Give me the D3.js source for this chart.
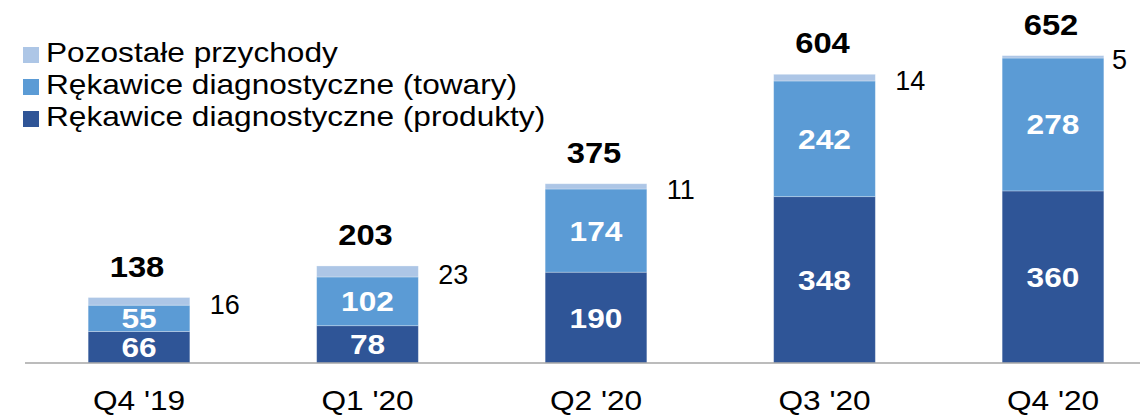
<!DOCTYPE html>
<html>
<head>
<meta charset="utf-8">
<style>
  body { margin: 0; background: #fff; }
  svg { display: block; font-family: "Liberation Sans", Arial, sans-serif; }
</style>
</head>
<body>
<svg id="chart" width="1140" height="415"></svg>
<script src="https://cdnjs.cloudflare.com/ajax/libs/d3/7.8.5/d3.min.js"></script>
<script>
// data
var categories = ["Q4 '19", "Q1 '20", "Q2 '20", "Q3 '20", "Q4 '20"];
var produkty   = [66, 78, 190, 348, 360];
var towary     = [55, 102, 174, 242, 278];
var pozostale  = [16, 23, 11, 14, 5];
var totals     = [138, 203, 375, 604, 652];

var seriesKeys  = ["produkty", "towary", "pozostale"];
var seriesNames = ["Rękawice diagnostyczne (produkty)", "Rękawice diagnostyczne (towary)", "Pozostałe przychody"];
var colors = { produkty: "#2F5597", towary: "#5B9BD5", pozostale: "#ADC6E6" };

var rows = categories.map(function(c, i) {
    return { cat: c, produkty: produkty[i], towary: towary[i], pozostale: pozostale[i], total: totals[i] };
});

var svg = d3.select("#chart"),
    width = +svg.attr("width"),
    height = +svg.attr("height"),
    sx = 1.13; // text in the picture is stretched a bit horizontally

var x = d3.scaleBand()
    .domain(categories)
    .range([24.75, 1167.25])
    .paddingInner(0.555)
    .paddingOuter(0.2775);

var y = d3.scaleLinear()
    .domain([0, 700])
    .range([363, 363 - 700 * 0.478]);

var stacked = d3.stack().keys(seriesKeys)(rows);

// bars
var layers = svg.append("g").selectAll("g")
    .data(stacked)
    .join("g")
    .attr("fill", function(d) { return colors[d.key]; });

layers.selectAll("rect")
    .data(function(d) { return d; })
    .join("rect")
    .attr("x", function(d) { return x(d.data.cat); })
    .attr("width", x.bandwidth())
    .attr("y", function(d) { return y(d[1]); })
    .attr("height", function(d) { return y(d[0]) - y(d[1]); })
    .attr("stroke", "#fff")
    .attr("stroke-opacity", 0.35)
    .attr("stroke-width", 0.8);

// axis line
svg.append("line")
    .attr("x1", 25).attr("x2", width)
    .attr("y1", y(0)).attr("y2", y(0))
    .attr("stroke", "#A6A6A6")
    .attr("stroke-width", 1.5);

// category labels
svg.append("g").selectAll("text")
    .data(categories)
    .join("text")
    .attr("transform", function(d) {
        return "translate(" + (x(d) + x.bandwidth() / 2) + ",410) scale(" + sx + ",1)";
    })
    .attr("text-anchor", "middle")
    .attr("font-size", 28)
    .attr("fill", "#000")
    .text(function(d) { return d; });

// white labels inside the two big segments
["produkty", "towary"].forEach(function(key) {
    var layer = stacked.find(function(s) { return s.key === key; });
    svg.append("g").selectAll("text")
        .data(layer)
        .join("text")
        .attr("transform", function(d) {
            var cy = (y(d[0]) + y(d[1])) / 2 + 10;
            return "translate(" + (x(d.data.cat) + x.bandwidth() / 2) + "," + cy + ") scale(" + sx + ",1)";
        })
        .attr("text-anchor", "middle")
        .attr("font-size", 28)
        .attr("font-weight", "bold")
        .attr("fill", "#fff")
        .text(function(d) { return d.data[key]; });
});

// totals above bars
var topLayer = stacked[stacked.length - 1];
svg.append("g").selectAll("text")
    .data(topLayer)
    .join("text")
    .attr("transform", function(d) {
        return "translate(" + (x(d.data.cat) + x.bandwidth() / 2 - 2) + "," + (y(d[1]) - 21) + ") scale(" + sx + ",1)";
    })
    .attr("text-anchor", "middle")
    .attr("font-size", 29)
    .attr("font-weight", "bold")
    .attr("fill", "#000")
    .text(function(d) { return d.data.total; });

// small "pozostale" values to the right of the bars
var outLabels = svg.append("g").selectAll("text")
    .data(topLayer)
    .join("text")
    .attr("font-size", 27)
    .attr("fill", "#000")
    .text(function(d) { return d.data.pozostale; });

outLabels.attr("x", function(d) {
        var w = this.getComputedTextLength();
        return Math.min(x(d.data.cat) + x.bandwidth() + 20, 1127 - w);
    })
    .attr("y", function(d) { return (y(d[0]) + y(d[1])) / 2 + 12.5; });

// legend
var legendOrder = seriesKeys.slice().reverse();
var legend = svg.append("g").selectAll("g")
    .data(legendOrder)
    .join("g")
    .attr("transform", function(d, i) { return "translate(23," + (47 + i * 32) + ")"; });

legend.append("rect")
    .attr("width", 16).attr("height", 16)
    .attr("fill", function(d) { return colors[d]; });

legend.append("text")
    .attr("transform", "translate(23,15) scale(" + sx + ",1)")
    .attr("font-size", 28)
    .attr("fill", "#000")
    .text(function(d) { return seriesNames[seriesKeys.indexOf(d)]; });
</script>
</body>
</html>
